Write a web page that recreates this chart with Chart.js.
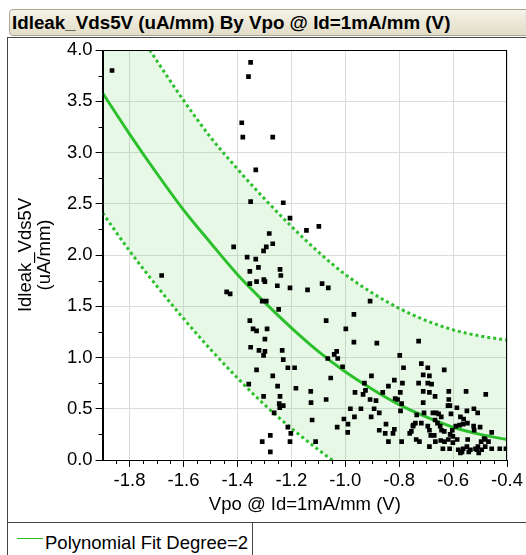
<!DOCTYPE html>
<html>
<head>
<meta charset="utf-8">
<script src="https://cdn.jsdelivr.net/npm/chart.js@4.4.1/dist/chart.umd.min.js"></script>
<style>
  body { margin: 0; background: #fff; font-family: Arial, "Liberation Sans", sans-serif; }
  #wrap { position: relative; width: 526px; height: 555px; overflow: hidden; }
  #title {
    position: absolute; left: 9px; top: 9px; width: 540px; height: 27px;
    box-sizing: border-box; border: 1px solid #aaa690; border-radius: 4px;
    background: linear-gradient(#f5f3e8, #e2ddc8);
    font-weight: bold; font-size: 18.8px; line-height: 25px; padding-left: 2px; color: #000;
    white-space: nowrap;
  }
  #frame { position: absolute; left: 7px; top: 37px; width: 540px; height: 540px; border-left: 1px solid #444; border-top: 1px solid #444; }
  #sep { position: absolute; left: 7px; top: 522px; width: 540px; border-top: 1px solid #444; }
  #legend { position: absolute; left: 7px; top: 522px; width: 245px; height: 40px; border-right: 1px solid #444; }
  #legend .swatch { position: absolute; left: 10px; top: 16px; width: 26px; border-top: 1px solid #2cc12c; }
  #legend .label { position: absolute; left: 38px; top: 10px; font-size: 18.5px; line-height: 22px; color: #000; white-space: nowrap; }
  canvas { position: absolute; left: 0; top: 0; }
</style>
</head>
<body>
<div id="wrap">
  <div id="title">Idleak_Vds5V (uA/mm) By Vpo @ Id=1mA/mm (V)</div>
  <div id="frame"></div>
  <div id="sep"></div>
  <div id="legend"><div class="swatch"></div><div class="label">Polynomial Fit Degree=2</div></div>
  <canvas id="chart" width="526" height="555"></canvas>
</div>
<script>
// measured points: Vpo (V) and Idleak_Vds5V (uA/mm)
const vpo = [
  -1.865, -1.351, -1.359, -1.384, -1.380, -1.269, -1.332, -1.351, -1.230, -1.205,
  -1.282, -1.144, -1.098, -1.269, -1.293, -1.303, -1.414, -1.364, -1.332, -1.681,
  -1.322, -1.354, -1.242, -1.239, -1.329, -1.302, -1.298, -1.354, -1.252, -1.205,
  -1.440, -1.427, -1.308, -1.293, -1.247, -1.354, -1.342, -1.329, -1.290, -1.298,
  -1.351, -1.320, -1.298, -1.303, -1.234, -1.230, -1.213, -1.188, -1.329, -1.269,
  -1.140, -1.086, -1.358, -1.251, -1.183, -1.128, -1.303, -1.242, -1.245, -1.230,
  -1.243, -1.127, -1.264, -1.123, -1.213, -1.202, -1.278, -1.308, -1.205, -1.110,
  -1.278, -1.063, -0.908, -0.968, -1.071, -0.998, -0.968, -0.883, -1.041, -1.032,
  -1.028, -1.065, -1.010, -0.798, -0.784, -1.054, -0.903, -0.818, -0.929, -0.788,
  -0.840, -0.925, -0.964, -0.934, -0.861, -0.796, -1.071, -0.908, -0.886, -0.815,
  -0.806, -0.791, -0.981, -0.942, -0.893, -0.795, -0.874, -0.966, -0.904, -1.005,
  -0.990, -1.030, -0.849, -0.874, -0.852, -0.818, -0.823, -0.991, -0.840, -0.791,
  -0.761, -0.755, -0.748, -0.728, -0.633, -0.718, -0.694, -0.711, -0.688, -0.728,
  -0.694, -0.680, -0.711, -0.688, -0.667, -0.616, -0.616, -0.552, -0.479, -0.711,
  -0.619, -0.612, -0.586, -0.608, -0.549, -0.523, -0.509, -0.573, -0.561, -0.576,
  -0.563, -0.547, -0.500, -0.522, -0.457, -0.485, -0.496, -0.469, -0.481, -0.508,
  -0.512, -0.505, -0.457, -0.427, -0.404, -0.613, -0.638, -0.581, -0.573, -0.563,
  -0.549, -0.536, -0.546, -0.585, -0.601, -0.611, -0.633, -0.648, -0.643, -0.658,
  -0.667, -0.644, -0.654, -0.675, -0.663, -0.749, -0.740, -0.735, -0.708, -0.718,
  -0.694, -0.688, -0.683, -0.670, -0.737, -0.725, -0.688, -0.666, -0.646, -0.632,
  -0.618, -0.601, -0.603, -0.590, -0.524, -0.481, -0.517, -0.494, -0.567, -0.542
];
const idleak = [
  3.80, 3.88, 3.74, 3.29, 3.15, 3.15, 2.83, 2.52, 2.51, 2.36,
  2.21, 2.24, 2.28, 2.11, 2.08, 2.04, 2.08, 1.98, 1.96, 1.80,
  1.88, 1.84, 1.86, 1.80, 1.74, 1.76, 1.74, 1.72, 1.70, 1.68,
  1.64, 1.62, 1.55, 1.55, 1.47, 1.36, 1.28, 1.26, 1.28, 1.18,
  1.10, 1.07, 1.06, 1.02, 1.07, 0.98, 0.90, 0.90, 0.88, 0.82,
  1.66, 1.72, 0.74, 0.72, 0.70, 0.67, 0.62, 0.62, 0.55, 0.53,
  0.51, 0.56, 0.46, 0.39, 0.32, 0.26, 0.24, 0.18, 0.18, 0.18,
  0.08, 1.68, 1.55, 1.42, 1.36, 1.28, 1.15, 1.14, 1.03, 1.06,
  0.99, 0.99, 0.91, 1.02, 0.90, 0.80, 0.82, 0.78, 0.75, 0.75,
  0.72, 0.68, 0.66, 0.64, 0.66, 0.66, 0.59, 0.59, 0.58, 0.60,
  0.59, 0.55, 0.50, 0.50, 0.50, 0.48, 0.46, 0.42, 0.42, 0.40,
  0.35, 0.32, 0.35, 0.29, 0.26, 0.30, 0.26, 0.27, 0.18, 0.18,
  0.26, 0.28, 0.34, 1.16, 0.88, 0.94, 0.90, 0.83, 0.82, 0.75,
  0.75, 0.74, 0.67, 0.66, 0.62, 0.67, 0.59, 0.67, 0.64, 0.56,
  0.53, 0.53, 0.51, 0.45, 0.48, 0.50, 0.46, 0.42, 0.40, 0.34,
  0.35, 0.36, 0.32, 0.29, 0.27, 0.21, 0.18, 0.18, 0.13, 0.13,
  0.10, 0.07, 0.11, 0.11, 0.11, 0.11, 0.11, 0.10, 0.07, 0.11,
  0.13, 0.10, 0.20, 0.20, 0.23, 0.25, 0.28, 0.33, 0.29, 0.36,
  0.39, 0.42, 0.45, 0.46, 0.46, 0.33, 0.36, 0.44, 0.46, 0.36,
  0.33, 0.29, 0.24, 0.24, 0.20, 0.18, 0.13, 0.18, 0.19, 0.18,
  0.20, 0.17, 0.29, 0.33, 0.33, 0.20, 0.11, 0.10, 0.08, 0.08
];

// fit curve and its dashed band, read along the x grid
const fitVpo      = [-1.9, -1.8, -1.7, -1.6, -1.5, -1.4, -1.3, -1.2, -1.1, -1.0, -0.9, -0.8, -0.7, -0.6, -0.5, -0.4];
const fitIdleak   = [3.58, 3.18, 2.80, 2.44, 2.12, 1.81, 1.54, 1.29, 1.06, 0.86, 0.69, 0.54, 0.42, 0.32, 0.25, 0.20];
const upperIdleak = [4.75, 4.31, 3.90, 3.51, 3.15, 2.84, 2.55, 2.28, 2.03, 1.81, 1.63, 1.48, 1.36, 1.27, 1.21, 1.17];
const lowerIdleak = [2.41, 2.04, 1.70, 1.38, 1.08, 0.80, 0.54, 0.31, 0.10, -0.09, -0.26, -0.40, -0.53, -0.63, -0.71, -0.77];

const xTickValues = [-1.8, -1.6, -1.4, -1.2, -1.0, -0.8, -0.6, -0.4];
const yTickValues = [0, 0.5, 1, 1.5, 2, 2.5, 3, 3.5, 4];

const green = '#2cc12c';
const axisFont = { family: 'Arial, "Liberation Sans", sans-serif', size: 18.5 };

function pairs(xs, ys) {
  return xs.map((v, i) => ({ x: v, y: ys[i] }));
}

// short minor ticks and the box round the plot
const plotFrame = {
  id: 'plotFrame',
  afterDraw(chart) {
    const { ctx, chartArea: a, scales: { x, y } } = chart;
    ctx.save();
    ctx.strokeStyle = '#000';
    ctx.lineWidth = 1;
    ctx.beginPath();
    for (let i = 1; i < 30; i++) {
      if (i % 4 === 2) continue;
      const px = Math.round(x.getPixelForValue(-1.9 + i * 0.05)) + 0.5;
      ctx.moveTo(px, a.bottom);
      ctx.lineTo(px, a.bottom + 4);
    }
    for (let k = 0; k < 8; k++) {
      const py = Math.round(y.getPixelForValue(0.25 + k * 0.5)) + 0.5;
      ctx.moveTo(a.left - 4, py);
      ctx.lineTo(a.left, py);
    }
    ctx.stroke();
    ctx.strokeRect(Math.round(a.left) + 0.5, Math.round(a.top) + 0.5,
      Math.round(a.right) - Math.round(a.left) - 1, Math.round(a.bottom) - Math.round(a.top));
    ctx.restore();
  }
};

const ctx = document.getElementById('chart').getContext('2d');
new Chart(ctx, {
  type: 'scatter',
  data: {
    datasets: [
      {
        label: 'points',
        data: pairs(vpo, idleak),
        pointStyle: 'rect',
        pointRadius: 3.3,
        backgroundColor: '#000',
        borderWidth: 0,
        showLine: false
      },
      {
        label: 'Polynomial Fit Degree=2',
        data: pairs(fitVpo, fitIdleak),
        showLine: true,
        borderColor: green,
        borderWidth: 3,
        pointRadius: 0,
        cubicInterpolationMode: 'monotone',
        fill: false,
        clip: 0
      },
      {
        label: 'upper',
        data: pairs(fitVpo, upperIdleak),
        showLine: true,
        borderColor: green,
        borderWidth: 3,
        borderDash: [3, 3],
        pointRadius: 0,
        cubicInterpolationMode: 'monotone',
        fill: '+1',
        backgroundColor: 'rgba(60, 200, 60, 0.12)',
        clip: 0
      },
      {
        label: 'lower',
        data: pairs(fitVpo, lowerIdleak),
        showLine: true,
        borderColor: green,
        borderWidth: 3,
        borderDash: [3, 3],
        pointRadius: 0,
        cubicInterpolationMode: 'monotone',
        fill: false,
        clip: 0
      }
    ]
  },
  options: {
    responsive: false,
    animation: false,
    layout: { padding: { left: 8, top: 50, right: 12, bottom: 33 } },
    plugins: {
      legend: { display: false },
      tooltip: { enabled: false }
    },
    scales: {
      x: {
        type: 'linear',
        min: -1.9,
        max: -0.4,
        afterBuildTicks: s => { s.ticks = xTickValues.map(v => ({ value: v })); },
        afterFit: s => { s.height = 62; },
        ticks: {
          callback: v => v.toFixed(1),
          font: axisFont,
          color: '#000',
          padding: 3,
          maxRotation: 0,
          autoSkip: false
        },
        grid: { color: '#dcdcdc', tickColor: '#000', tickLength: 7 },
        border: { color: '#000' },
        title: {
          display: true,
          text: 'Vpo @ Id=1mA/mm (V)',
          font: axisFont,
          color: '#000',
          padding: { top: 0, bottom: 6 }
        }
      },
      y: {
        type: 'linear',
        min: 0,
        max: 4,
        afterBuildTicks: s => { s.ticks = yTickValues.map(v => ({ value: v })); },
        afterFit: s => { s.width = 94.6; },
        ticks: {
          callback: v => v.toFixed(1),
          font: axisFont,
          color: '#000',
          padding: 3,
          autoSkip: false
        },
        grid: { color: '#dcdcdc', tickColor: '#000', tickLength: 7 },
        border: { color: '#000' },
        title: {
          display: true,
          text: ['Idleak_Vds5V', '(uA/mm)'],
          font: { family: axisFont.family, size: 18.5, lineHeight: 1.0 },
          color: '#000',
          padding: { top: 9, bottom: 0 }
        }
      }
    }
  },
  plugins: [plotFrame]
});
</script>
</body>
</html>
